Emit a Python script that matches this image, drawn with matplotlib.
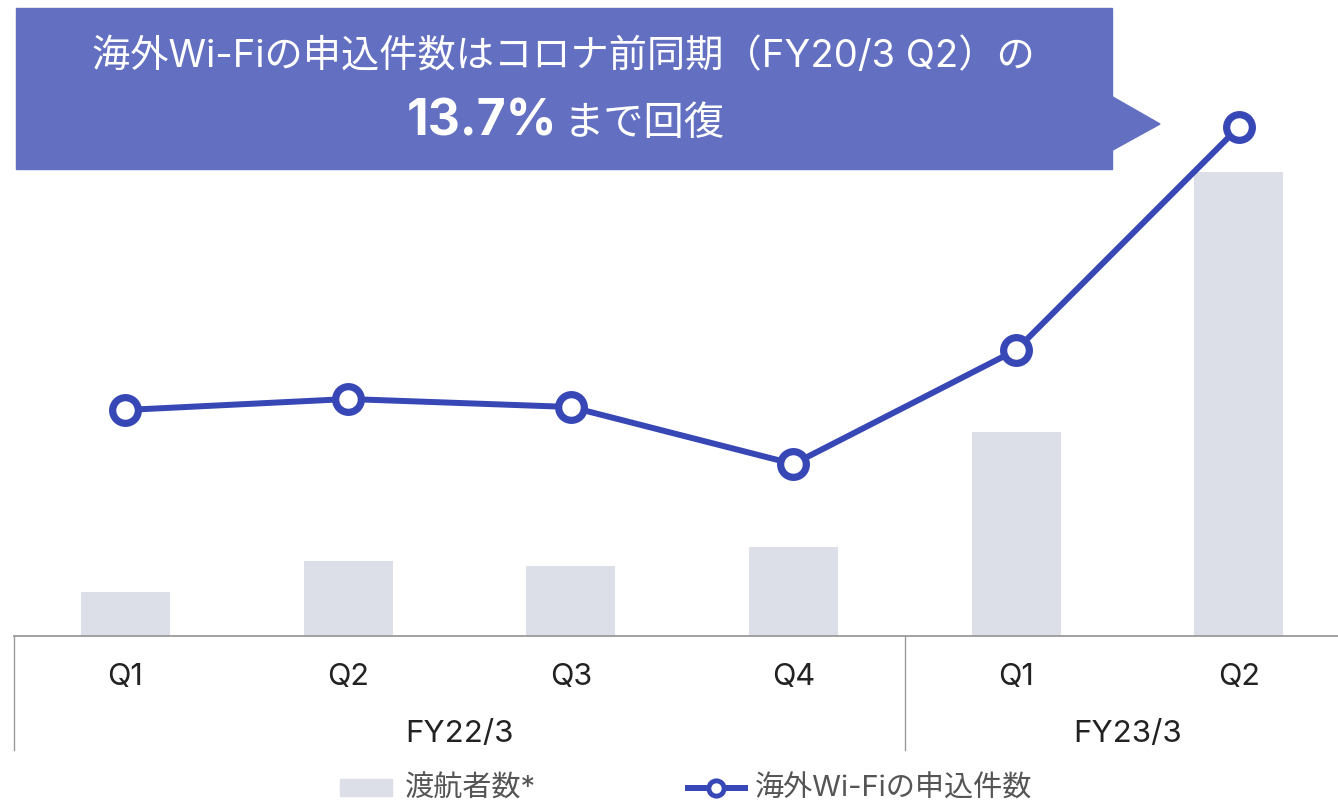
import matplotlib.pyplot as plt
from matplotlib.patches import Polygon, Rectangle
from matplotlib.lines import Line2D

plt.rcParams['font.family'] = ['Inter', 'Noto Sans CJK JP', 'DejaVu Sans']

quarters = ['Q1', 'Q2', 'Q3', 'Q4', 'Q1', 'Q2']
fiscal_years = ['FY22/3', 'FY23/3']
fy_spans = [(0, 3), (4, 5)]
travelers = [44, 75, 70, 89, 204, 464]        # bar heights (relative)
wifi_orders = [226, 237, 229, 172, 286, 509]  # line values (relative)

bar_color = '#dcdfe7'
line_color = '#3747b6'
box_color = '#6370c1'
text_color = '#222222'
grid_color = '#9a9a9a'

W, H = 1338, 803
fig = plt.figure(figsize=(W / 100, H / 100), dpi=100)

# axes spans x 14..1338 px, y 0..637 px (from top)
ax = fig.add_axes([14 / W, (H - 637) / H, (W - 14) / W, 637 / H])
x = list(range(len(quarters)))
ax.bar(x, travelers, width=0.4, color=bar_color, zorder=1)
ax.plot(x, wifi_orders, color=line_color, lw=4.3, marker='o', ms=18.5,
        mfc='white', mec=line_color, mew=5.2, zorder=3, clip_on=False)
ax.set_xlim(-0.5, 5.445)
ax.set_ylim(0, 637)
ax.axis('off')

# baseline and category dividers
ax.axhline(0, color=grid_color, lw=1.3, clip_on=False)
for xd in (-0.5, 3.5):
    ax.plot([xd, xd], [0, -114], color=grid_color, lw=1.0, clip_on=False)

for xi, q in zip(x, quarters):
    ax.text(xi, -40, q, ha='center', va='center', fontsize=22, color=text_color)
for fy, (a, b) in zip(fiscal_years, fy_spans):
    ax.text((a + b) / 2, -97, fy, ha='center', va='center', fontsize=22.5,
            color=text_color)

# callout box with arrow
fig.patches.append(Rectangle((16 / W, (H - 170) / H), (1112 - 16) / W, 161 / H,
                             transform=fig.transFigure, color=box_color, zorder=0))
fig.patches.append(Polygon([(1111 / W, (H - 97) / H), (1160 / W, (H - 125) / H),
                            (1111 / W, (H - 152) / H)], closed=True,
                           transform=fig.transFigure, color=box_color, zorder=0))
fig.text(563 / W, (H - 57) / H, '海外Wi-Fiの申込件数はコロナ前同期（FY20/3 Q2）の',
         ha='center', va='center', fontsize=27.5, color='white')
fig.text(557 / W, (H - 122) / H, '13.7%', ha='right', va='center', fontsize=36,
         fontweight='bold', color='white')
fig.text(564 / W, (H - 125) / H, 'まで回復', ha='left', va='center', fontsize=29,
         color='white')

# legend
legend_color = '#555555'
fig.patches.append(Rectangle((340 / W, (H - 797) / H), 52 / W, 17 / H,
                             transform=fig.transFigure, color=bar_color))
fig.text(405 / W, (H - 789) / H, '渡航者数*', ha='left', va='center',
         fontsize=21, color=legend_color)
fig.lines.append(Line2D([688 / W, 745 / W], [(H - 789) / H] * 2,
                        transform=fig.transFigure, color=line_color, lw=4.3,
                        zorder=3))
fig.lines.append(Line2D([716 / W], [(H - 789) / H], transform=fig.transFigure,
                        color=line_color, marker='o', ms=11, mfc='white',
                        mec=line_color, mew=3.5, lw=0, zorder=4))
fig.text(755 / W, (H - 789) / H, '海外Wi-Fiの申込件数', ha='left', va='center',
         fontsize=21, color=legend_color)

fig.savefig('out.png', dpi=100)
